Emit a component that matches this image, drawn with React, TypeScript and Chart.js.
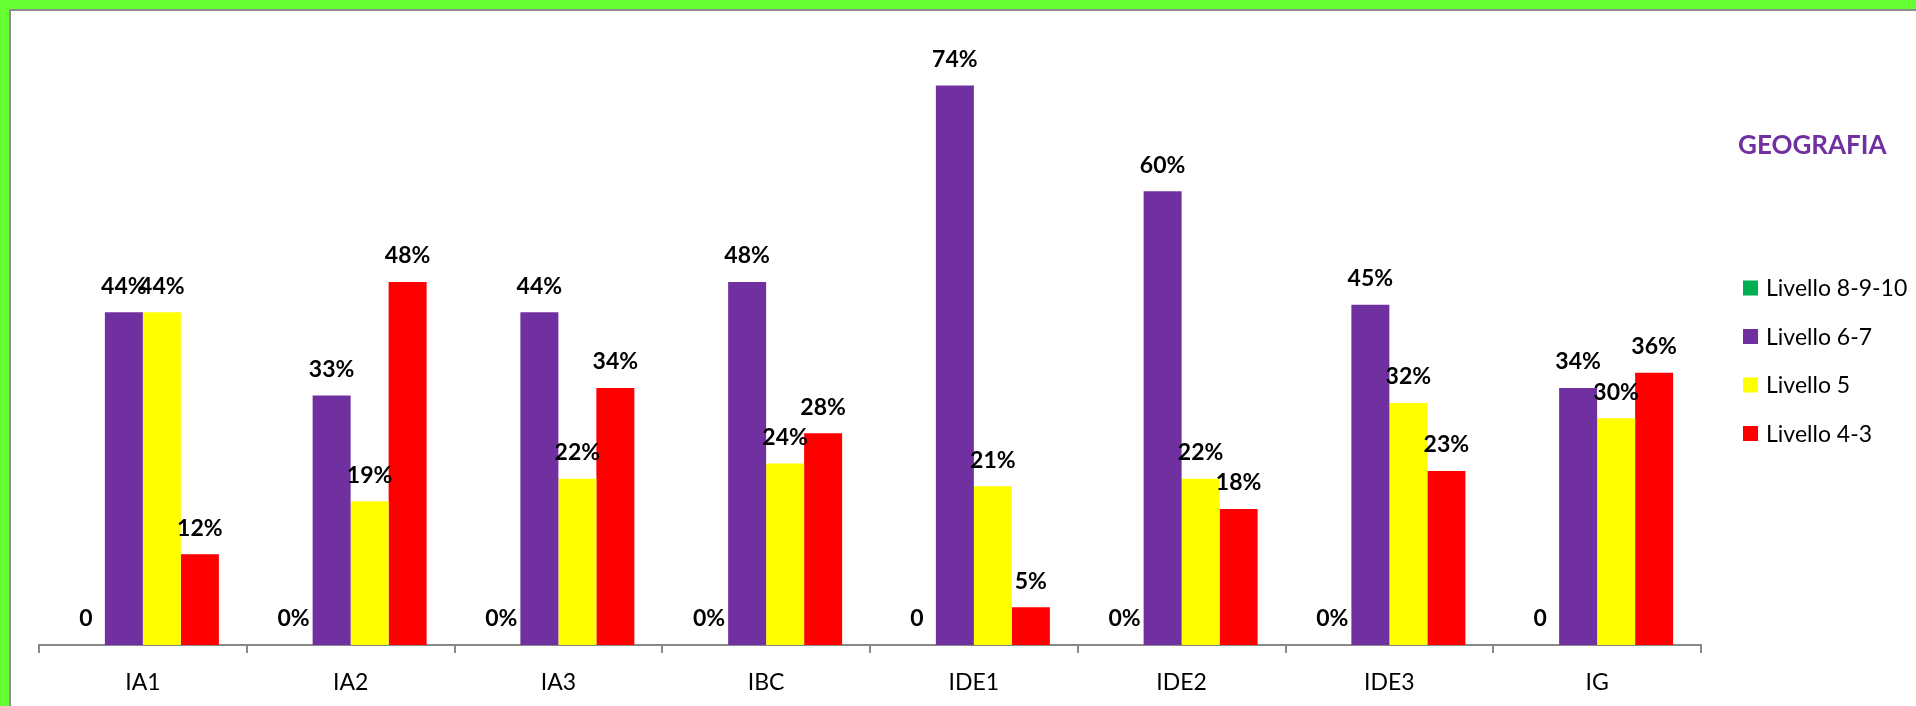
import React, { useEffect, useRef } from "react";
import { Chart, registerables } from "chart.js";

Chart.register(...registerables);

const categories = ["IA1", "IA2", "IA3", "IBC", "IDE1", "IDE2", "IDE3", "IG"];
const seriesNames = ["Livello 8-9-10", "Livello 6-7", "Livello 5", "Livello 4-3"];
const livello8910 = [0, 0, 0, 0, 0, 0, 0, 0];
const livello67 = [44, 33, 44, 48, 74, 60, 45, 34];
const livello5 = [44, 19, 22, 24, 21, 22, 32, 30];
const livello43 = [12, 48, 34, 28, 5, 18, 23, 36];
const livello8910Labels = ["0", "0%", "0%", "0%", "0", "0%", "0%", "0"];
const seriesColors = ["#00B050", "#7030A0", "#FFFF00", "#FF0000"];
const chartTitle = "GEOGRAFIA";
const yMax = 80;

const FONT = "Lato, 'Open Sans', sans-serif";

const valueLabelPlugin = {
  id: "valueLabels",
  afterDatasetsDraw(chart: any) {
    const ctx = chart.ctx;
    ctx.save();
    ctx.font = `bold 23px ${FONT}`;
    ctx.fillStyle = "#000000";
    ctx.textAlign = "center";
    ctx.textBaseline = "middle";
    chart.data.datasets.forEach((ds: any, di: number) => {
      const meta = chart.getDatasetMeta(di);
      meta.data.forEach((el: any, i: number) => {
        const label = ds.valueLabels ? ds.valueLabels[i] : `${ds.data[i]}%`;
        ctx.fillText(label, el.x, el.y - 26);
      });
    });
    ctx.restore();
  },
};

const sideLegendPlugin = {
  id: "sideLegend",
  afterDraw(chart: any) {
    const ctx = chart.ctx;
    const area = chart.chartArea;
    ctx.save();
    // title
    ctx.font = `bold 26px ${FONT}`;
    ctx.fillStyle = "#7030A0";
    ctx.textAlign = "left";
    ctx.textBaseline = "middle";
    ctx.fillText(chartTitle, area.right + 37, 135);
    // legend items
    ctx.font = `23px ${FONT}`;
    chart.data.datasets.forEach((ds: any, i: number) => {
      const cy = 277 + i * 48.5;
      const bx = area.right + 42;
      ctx.fillStyle = ds.backgroundColor;
      ctx.fillRect(bx, cy - 7.5, 15, 15);
      ctx.fillStyle = "#000000";
      ctx.fillText(ds.label, bx + 23, cy + 1);
    });
    ctx.restore();
  },
};

export default function App() {
  const canvasRef = useRef<HTMLCanvasElement | null>(null);

  useEffect(() => {
    if (!canvasRef.current) return;
    const seriesData = [livello8910, livello67, livello5, livello43];
    const chart = new Chart(canvasRef.current, {
      type: "bar",
      data: {
        labels: categories,
        datasets: seriesNames.map((name, i) => ({
          label: name,
          data: seriesData[i],
          backgroundColor: seriesColors[i],
          borderWidth: 0,
          categoryPercentage: 0.7316,
          barPercentage: 1,
          valueLabels: i === 0 ? livello8910Labels : undefined,
        })) as any,
      },
      options: {
        animation: false,
        responsive: false,
        maintainAspectRatio: false,
        layout: { padding: { top: 29, left: 28, right: 215, bottom: -6 } },
        plugins: {
          legend: { display: false },
          title: { display: false },
          tooltip: { enabled: false },
        },
        scales: {
          x: {
            grid: {
              display: true,
              drawOnChartArea: false,
              drawTicks: true,
              tickLength: 8,
              color: "#898989",
              lineWidth: 2,
              offset: true,
            },
            border: { display: true, color: "#898989", width: 2 },
            ticks: {
              color: "#000000",
              font: { family: FONT, size: 23, lineHeight: 1 },
              padding: 18,
            },
          },
          y: {
            display: false,
            min: 0,
            max: yMax,
          },
        },
      },
      plugins: [valueLabelPlugin, sideLegendPlugin],
    });
    return () => chart.destroy();
  }, []);

  return (
    <div
      style={{
        position: "fixed",
        left: 0,
        top: 0,
        width: 1916,
        height: 706,
        boxSizing: "border-box",
        borderTop: "9px solid #66FF33",
        borderLeft: "9px solid #66FF33",
        background: "#ffffff",
        overflow: "hidden",
      }}
    >
      <div
        style={{
          width: 1907,
          height: 697,
          boxSizing: "border-box",
          borderTop: "2px solid #8C8C8C",
          borderLeft: "2px solid #8C8C8C",
        }}
      >
        <canvas ref={canvasRef} width={1905} height={695} style={{ display: "block" }} />
      </div>
    </div>
  );
}
